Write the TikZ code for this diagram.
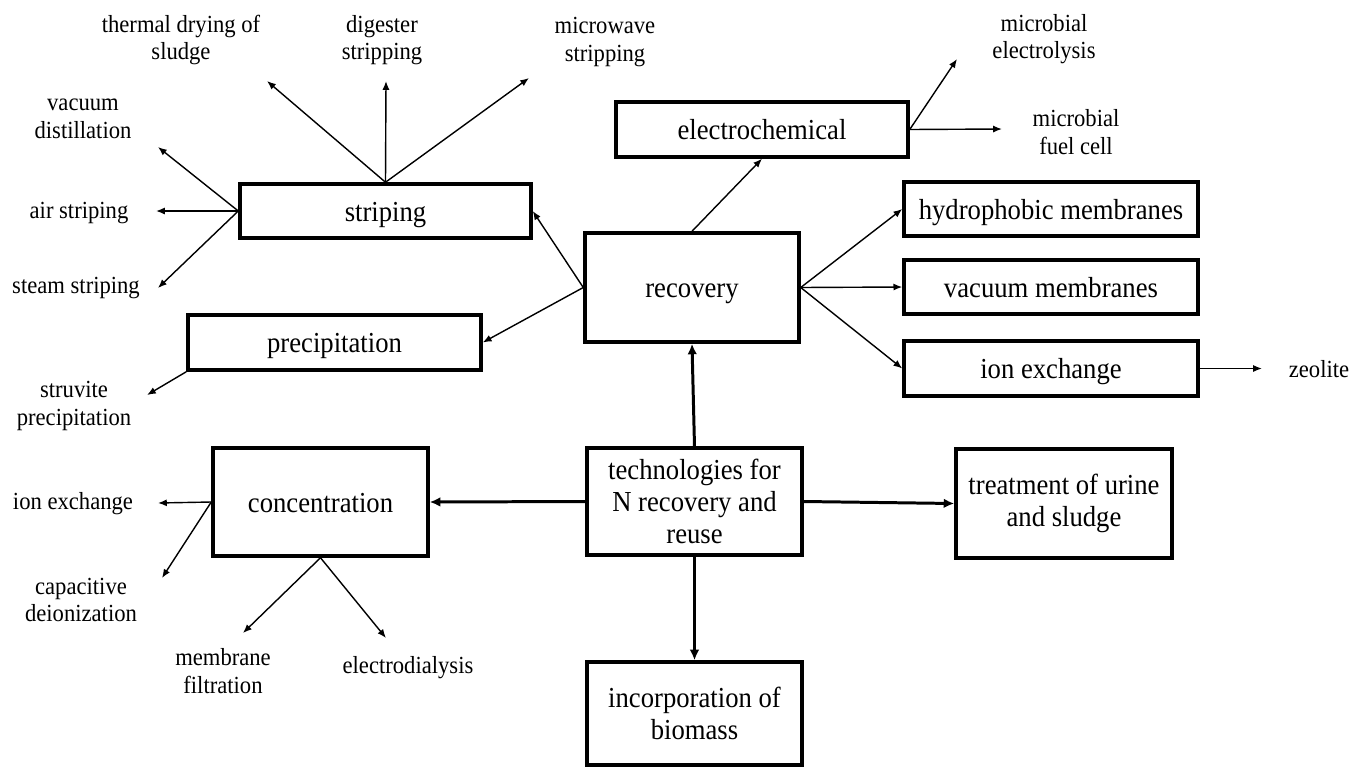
\documentclass[tikz,border=0pt]{standalone}
\usepackage{fontspec}
\setmainfont{Liberation Serif}[FakeStretch=0.92]
\usetikzlibrary{arrows.meta}
\begin{document}
\begin{tikzpicture}[x=0.02cm,y=-0.02cm,
  box/.style={draw,line width=2pt,inner sep=0pt,align=center,font=\fontsize{16.5}{18.1}\selectfont},
  onebox/.style={box,text height=15pt,text depth=3.6pt},
  lbl/.style={inner sep=0pt,align=center,font=\fontsize{14}{15.6}\selectfont},
  arr/.style={line width=0.8pt,-{Latex[length=5pt,width=4pt]}},
  bigarr/.style={line width=1.7pt,-{Latex[length=6pt,width=5.5pt]}}]
\useasboundingbox (0,0) rectangle (1367,768);
% boxes
\node[onebox,minimum width=5.82cm,minimum height=1.08cm] (strip) at (385.5,211) {striping};
\node[onebox,minimum width=5.84cm,minimum height=1.10cm] (elec) at (762,129.5) {electrochemical};
\node[onebox,minimum width=5.88cm,minimum height=1.08cm] (hydro) at (1051,209) {hydrophobic membranes};
\node[onebox,minimum width=5.88cm,minimum height=1.08cm] (vac) at (1051,287) {vacuum membranes};
\node[onebox,minimum width=5.88cm,minimum height=1.10cm] (ionx) at (1051,368.5) {ion exchange};
\node[onebox,minimum width=4.28cm,minimum height=2.18cm] (rec) at (692,287.5) {recovery};
\node[onebox,minimum width=5.86cm,minimum height=1.10cm] (prec) at (334.5,342.5) {precipitation};
\node[onebox,minimum width=4.30cm,minimum height=2.16cm] (conc) at (320.5,502) {concentration};
\node[box,minimum width=4.30cm,minimum height=2.14cm] (tech) at (694.5,501.5) {technologies for\\N recovery and\\reuse};
\node[box,minimum width=4.32cm,minimum height=2.18cm] (treat) at (1064,503.5) {treatment of urine\\and sludge};
\node[box,minimum width=4.30cm,minimum height=2.06cm] (inc) at (694.5,713.5) {incorporation of\\biomass};
% labels
\node[lbl] (thd) at (181,40) {thermal drying of\\sludge};
\node[lbl] (dig) at (382,40) {digester\\stripping};
\node[lbl] (mic) at (605,42) {microwave\\stripping};
\node[lbl] (mel) at (1044,39) {microbial\\electrolysis};
\node[lbl] (mfc) at (1076,132) {microbial\\fuel cell};
\node[lbl] (vdi) at (83,119) {vacuum\\distillation};
\node[lbl] (air) at (79,213) {air striping};
\node[lbl] (stm) at (76,288) {steam striping};
\node[lbl] (stv) at (74,406) {struvite\\precipitation};
\node[lbl] (iex) at (73,504) {ion exchange};
\node[lbl] (cdi) at (81,600) {capacitive\\deionization};
\node[lbl] (mfl) at (223,671) {membrane\\filtration};
\node[lbl] (edl) at (408,668) {electrodialysis};
\node[lbl] (zeo) at (1319,369) {zeolite};
% arrow ends
\coordinate (eThd) at (267,81);
\coordinate (eDig) at (386,81);
\coordinate (eMic) at (529,78);
\coordinate (eMel) at (957,59);
\coordinate (eMfc) at (1002,129);
\coordinate (eVdi) at (158,147);
\coordinate (eAir) at (156,211);
\coordinate (eStm) at (158,288);
\coordinate (eStv) at (147,395);
\coordinate (eIex) at (158,503);
\coordinate (eCdi) at (162,578);
\coordinate (eMfl) at (243,633);
\coordinate (eEdl) at (386,638);
\coordinate (eZeo) at (1262,368.5);
% connectors
\draw[arr] (strip.north) -- (eThd);
\draw[arr] (strip.north) -- (eDig);
\draw[arr] (strip.north) -- (eMic);
\draw[arr] (strip.west) -- (eVdi);
\draw[arr] (strip.west) -- (eAir);
\draw[arr] (strip.west) -- (eStm);
\draw[arr] (elec.east) -- (eMel);
\draw[arr] (elec.east) -- (eMfc);
\draw[arr] (rec.west) -- (strip.east);
\draw[arr] (rec.west) -- (prec.east);
\draw[arr] (rec.north) -- (elec.south);
\draw[arr] (rec.east) -- (hydro.west);
\draw[arr] (rec.east) -- (vac.west);
\draw[arr] (rec.east) -- (ionx.west);
\draw[arr] (ionx.east) -- (eZeo);
\draw[arr] (prec.south west) -- (eStv);
\draw[arr] (conc.west) -- (eIex);
\draw[arr] (conc.west) -- (eCdi);
\draw[arr] (conc.south) -- (eMfl);
\draw[arr] (conc.south) -- (eEdl);
\draw[bigarr] (tech.north) -- (rec.south);
\draw[bigarr] (tech.west) -- (conc.east);
\draw[bigarr] (tech.east) -- (treat.west);
\draw[bigarr] (tech.south) -- (inc.north);
\end{tikzpicture}
\end{document}
